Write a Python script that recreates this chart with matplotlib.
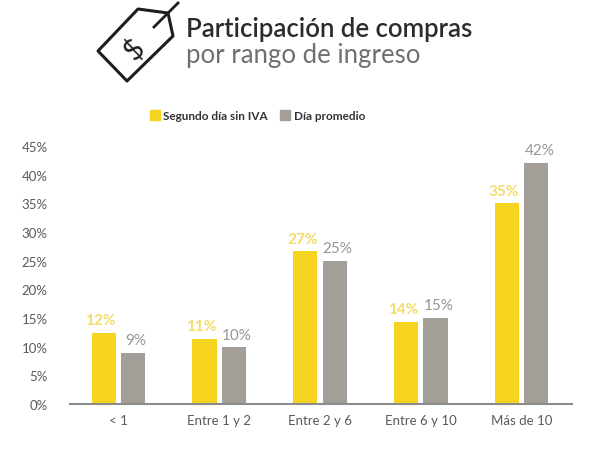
import numpy as np
import matplotlib
matplotlib.use("Agg")
import matplotlib.pyplot as plt
from matplotlib.patches import Polygon
from matplotlib.lines import Line2D

plt.rcParams['font.family'] = ['Lato', 'DejaVu Sans']

# data
categorias = ['< 1', 'Entre 1 y 2', 'Entre 2 y 6', 'Entre 6 y 10', 'Más de 10']
segundo_dia = [12.4, 11.3, 26.6, 14.3, 35.0]
dia_promedio = [8.9, 9.9, 25.0, 15.0, 42.0]
etq_segundo = ['12%', '11%', '27%', '14%', '35%']
etq_promedio = ['9%', '10%', '25%', '15%', '42%']
yticks = [0, 5, 10, 15, 20, 25, 30, 35, 40, 45]

amarillo = '#F6D31F'
gris = '#A39E98'
W, H = 592, 456

fig = plt.figure(figsize=(W / 100, H / 100), dpi=100)
ax = fig.add_axes([70 / W, 51 / H, 502 / W, 258 / H])

x = np.arange(len(categorias))
bw = 0.24
off = 0.145
ax.bar(x - off, segundo_dia, bw, color=amarillo)
ax.bar(x + off, dia_promedio, bw, color=gris)

for xi, v, t in zip(x, segundo_dia, etq_segundo):
    ax.text(xi - off - 0.03, v + 1.0, t, ha='center', va='bottom',
            color='#F3DC6A', fontsize=11, fontweight='bold')
for xi, v, t in zip(x, dia_promedio, etq_promedio):
    ax.text(xi + off + 0.03, v + 1.0, t, ha='center', va='bottom',
            color='#9A9590', fontsize=11)

ax.set_xlim(-0.48, 4.5)
ax.set_ylim(0, 45)
ax.set_yticks(yticks)
ax.set_yticklabels([f'{t}%' for t in yticks], color='#595959', fontsize=9.5)
ax.set_xticks(x)
ax.set_xticklabels(categorias, color='#595959', fontsize=9.5)
ax.tick_params(length=0, pad=7)
ax.tick_params(axis='y', pad=16)
for s in ['top', 'right', 'left']:
    ax.spines[s].set_visible(False)
ax.spines['bottom'].set_color('#8C8C8C')
ax.spines['bottom'].set_linewidth(1.5)

# legend
handles = [Line2D([], [], marker='s', linestyle='', color=amarillo, markersize=6.5),
           Line2D([], [], marker='s', linestyle='', color=gris, markersize=6.5)]
fig.legend(handles, ['Segundo día sin IVA', 'Día promedio'], ncol=2, frameon=False,
           loc='center', bbox_to_anchor=(257 / W, 1 - 117 / H), handlelength=1.0,
           handletextpad=0.2, columnspacing=1.0, prop={'weight': 'bold', 'size': 8.5})
for t in fig.legends[0].get_texts():
    t.set_color('#333333')

# title
fig.text(186 / W, 1 - 29 / H, 'Participación de compras', fontsize=18.5,
         color='#2b2b2b', va='center', ha='left', fontweight='semibold')
fig.text(186 / W, 1 - 55 / H, 'por rango de ingreso', fontsize=18.5,
         color='#707070', va='center', ha='left')

# price tag icon
tag = [(98, 52), (138, 10), (168, 14), (173, 37), (127, 82)]
fig.patches.append(Polygon([(px / W, 1 - py / H) for px, py in tag], closed=True,
                           fill=False, edgecolor='#1e1e1e', linewidth=2.2,
                           joinstyle='round', transform=fig.transFigure, figure=fig))
fig.lines.append(Line2D([154 / W, 178 / W], [1 - 28 / H, 1 - 4 / H], color='#1e1e1e',
                        linewidth=2, transform=fig.transFigure, figure=fig))
fig.text(134 / W, 1 - 49 / H, '$', fontsize=21, rotation=45, color='#1e1e1e',
         ha='center', va='center')

fig.savefig('out.png', dpi=100)
